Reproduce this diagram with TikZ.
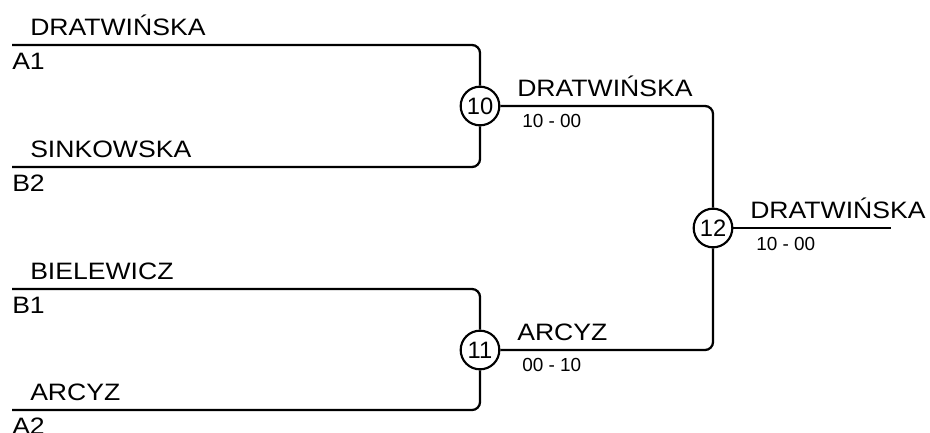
\documentclass[tikz,border=0pt]{standalone}
\usepackage{fontspec}
\setmainfont{Liberation Sans}
\usepackage{graphicx}
\newcommand{\breit}[1]{\scalebox{1.12}[1]{#1}}
\tikzset{
  spieler/.style={anchor=base west, inner sep=0pt, font=\fontsize{17.8}{20}\selectfont},
  ergebnis/.style={anchor=base west, inner sep=0pt, font=\fontsize{14.2}{16}\selectfont},
  spiel/.style={circle, draw, line width=1.6pt, minimum size=29pt, inner sep=0pt, font=\fontsize{17.8}{20}\selectfont},
  linie/.style={line width=1.7pt, rounded corners=6pt},
}
\begin{document}
\begin{tikzpicture}[x=0.75pt, y=-0.75pt]
	\useasboundingbox (0,0) rectangle (930,432);

	% Spiele
	\node[spiel] (s10) at (480,106) {10};
	\node[spiel] (s11) at (480,350) {11};
	\node[spiel] (s12) at (713,228) {12};

	% Startpunkte der Linien
	\coordinate (a1) at (12,45);
	\coordinate (b2) at (12,167);
	\coordinate (b1) at (12,289);
	\coordinate (a2) at (12,410);
	\coordinate (ende) at (891,228);

	% Linien zeichnen
	\draw[linie] (a1) -| (s10);
	\draw[linie] (b2) -| (s10);
	\draw[linie] (b1) -| (s11);
	\draw[linie] (a2) -| (s11);
	\draw[linie] (s10) -| (s12);
	\draw[linie] (s11) -| (s12);
	\draw[linie] (s12) -- (ende);

	% Spieler und Setzplaetze
	\node[spieler] (n1) at (30,35.5) {\breit{DRATWIŃSKA}};
	\node[spieler] (p1) at (12,69) {\breit{A1}};
	\node[spieler] (n2) at (30,157) {\breit{SINKOWSKA}};
	\node[spieler] (p2) at (12,191) {\breit{B2}};
	\node[spieler] (n3) at (30,279) {\breit{BIELEWICZ}};
	\node[spieler] (p3) at (12,313) {\breit{B1}};
	\node[spieler] (n4) at (30,400) {\breit{ARCYZ}};
	\node[spieler] (p4) at (12,434) {\breit{A2}};

	% Sieger und Ergebnisse
	\node[spieler] (w10) at (517,96) {\breit{DRATWIŃSKA}};
	\node[ergebnis] (e10) at (522,127) {10 - 00};
	\node[spieler] (w11) at (517,340) {\breit{ARCYZ}};
	\node[ergebnis] (e11) at (522,371) {00 - 10};
	\node[spieler] (w12) at (750,218) {\breit{DRATWIŃSKA}};
	\node[ergebnis] (e12) at (756,250) {10 - 00};
\end{tikzpicture}
\end{document}
